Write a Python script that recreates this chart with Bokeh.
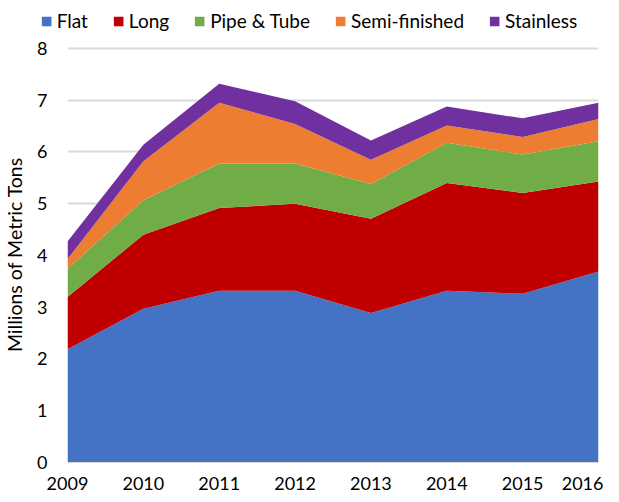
from bokeh.plotting import figure
from bokeh.models import ColumnDataSource, Legend, LegendItem, Range1d, FixedTicker
from bokeh.layouts import column
from bokeh.embed import file_html
from bokeh.resources import INLINE

years = [2009, 2010, 2011, 2012, 2013, 2014, 2015, 2016]
flat = [2.19, 2.97, 3.32, 3.32, 2.89, 3.32, 3.26, 3.69]
long_ = [1.01, 1.43, 1.60, 1.68, 1.82, 2.08, 1.95, 1.74]
pipe = [0.54, 0.67, 0.86, 0.78, 0.67, 0.78, 0.74, 0.78]
semi = [0.19, 0.75, 1.17, 0.76, 0.47, 0.33, 0.34, 0.43]
stainless = [0.34, 0.32, 0.37, 0.44, 0.37, 0.37, 0.36, 0.31]
y_ticks = [0, 1, 2, 3, 4, 5, 6, 7, 8]

names = ["Flat", "Long", "Pipe & Tube", "Semi-finished", "Stainless"]
colors = ["#4472C4", "#C00000", "#70AD47", "#ED7D31", "#7030A0"]

source = ColumnDataSource(data={
    "x": years,
    "Flat": flat,
    "Long": long_,
    "Pipe & Tube": pipe,
    "Semi-finished": semi,
    "Stainless": stainless,
})

FONT = "Lato"

# ---- legend strip (the same stacked areas, out of its view; only the legend shows) ----
lp = figure(width=603, height=36, output_backend="svg", toolbar_location=None,
            x_axis_type=None, y_axis_type=None, min_border=0, min_border_left=14,
            x_range=Range1d(0, 1), y_range=Range1d(0, 1))
lp.frame_align = False
lp.outline_line_color = None
lp.xgrid.visible = False
lp.ygrid.visible = False
legend_rends = lp.varea_stack(stackers=names, x="x", color=colors, source=source)
legend = Legend(items=[LegendItem(label=n, renderers=[r]) for n, r in zip(names, legend_rends)],
                orientation="horizontal", location="bottom_center",
                label_text_font=FONT, label_text_font_size="19px", label_text_color="#000000",
                label_height=20, glyph_width=12, glyph_height=12, label_standoff=5, spacing=24,
                border_line_color=None, background_fill_alpha=0, padding=2, margin=4)
lp.add_layout(legend)

# ---- main chart ----
p = figure(width=603, height=458, output_backend="svg", toolbar_location=None,
           x_range=Range1d(2009, 2016), y_range=Range1d(0, 8.0386),
           min_border_left=58, min_border_right=5, min_border_bottom=32, min_border_top=10)
p.frame_align = False
p.outline_line_color = None

p.varea_stack(stackers=names, x="x", color=colors, source=source)

p.xaxis.ticker = FixedTicker(ticks=years)
p.yaxis.ticker = FixedTicker(ticks=y_ticks)
for ax in (p.xaxis[0], p.yaxis[0]):
    ax.major_label_text_font = FONT
    ax.major_label_text_font_size = "18px"
    ax.major_label_text_color = "#000000"
    ax.major_tick_line_color = None
    ax.minor_tick_line_color = None
p.yaxis.axis_line_color = None
p.xaxis.axis_line_color = "#D9D9D9"
p.xaxis.major_label_standoff = 8
p.yaxis.major_label_standoff = 14
p.yaxis.axis_label = "Millions of Metric Tons"
p.yaxis.axis_label_text_font = FONT
p.yaxis.axis_label_text_font_size = "19.5px"
p.yaxis.axis_label_text_font_style = "normal"
p.yaxis.axis_label_text_color = "#000000"
p.yaxis.axis_label_standoff = 8

p.xgrid.grid_line_color = None
p.ygrid.grid_line_color = "#D9D9D9"
p.ygrid.grid_line_width = 2

layout = column(lp, p, spacing=0)
open("out.html", "w").write(file_html(layout, INLINE))
